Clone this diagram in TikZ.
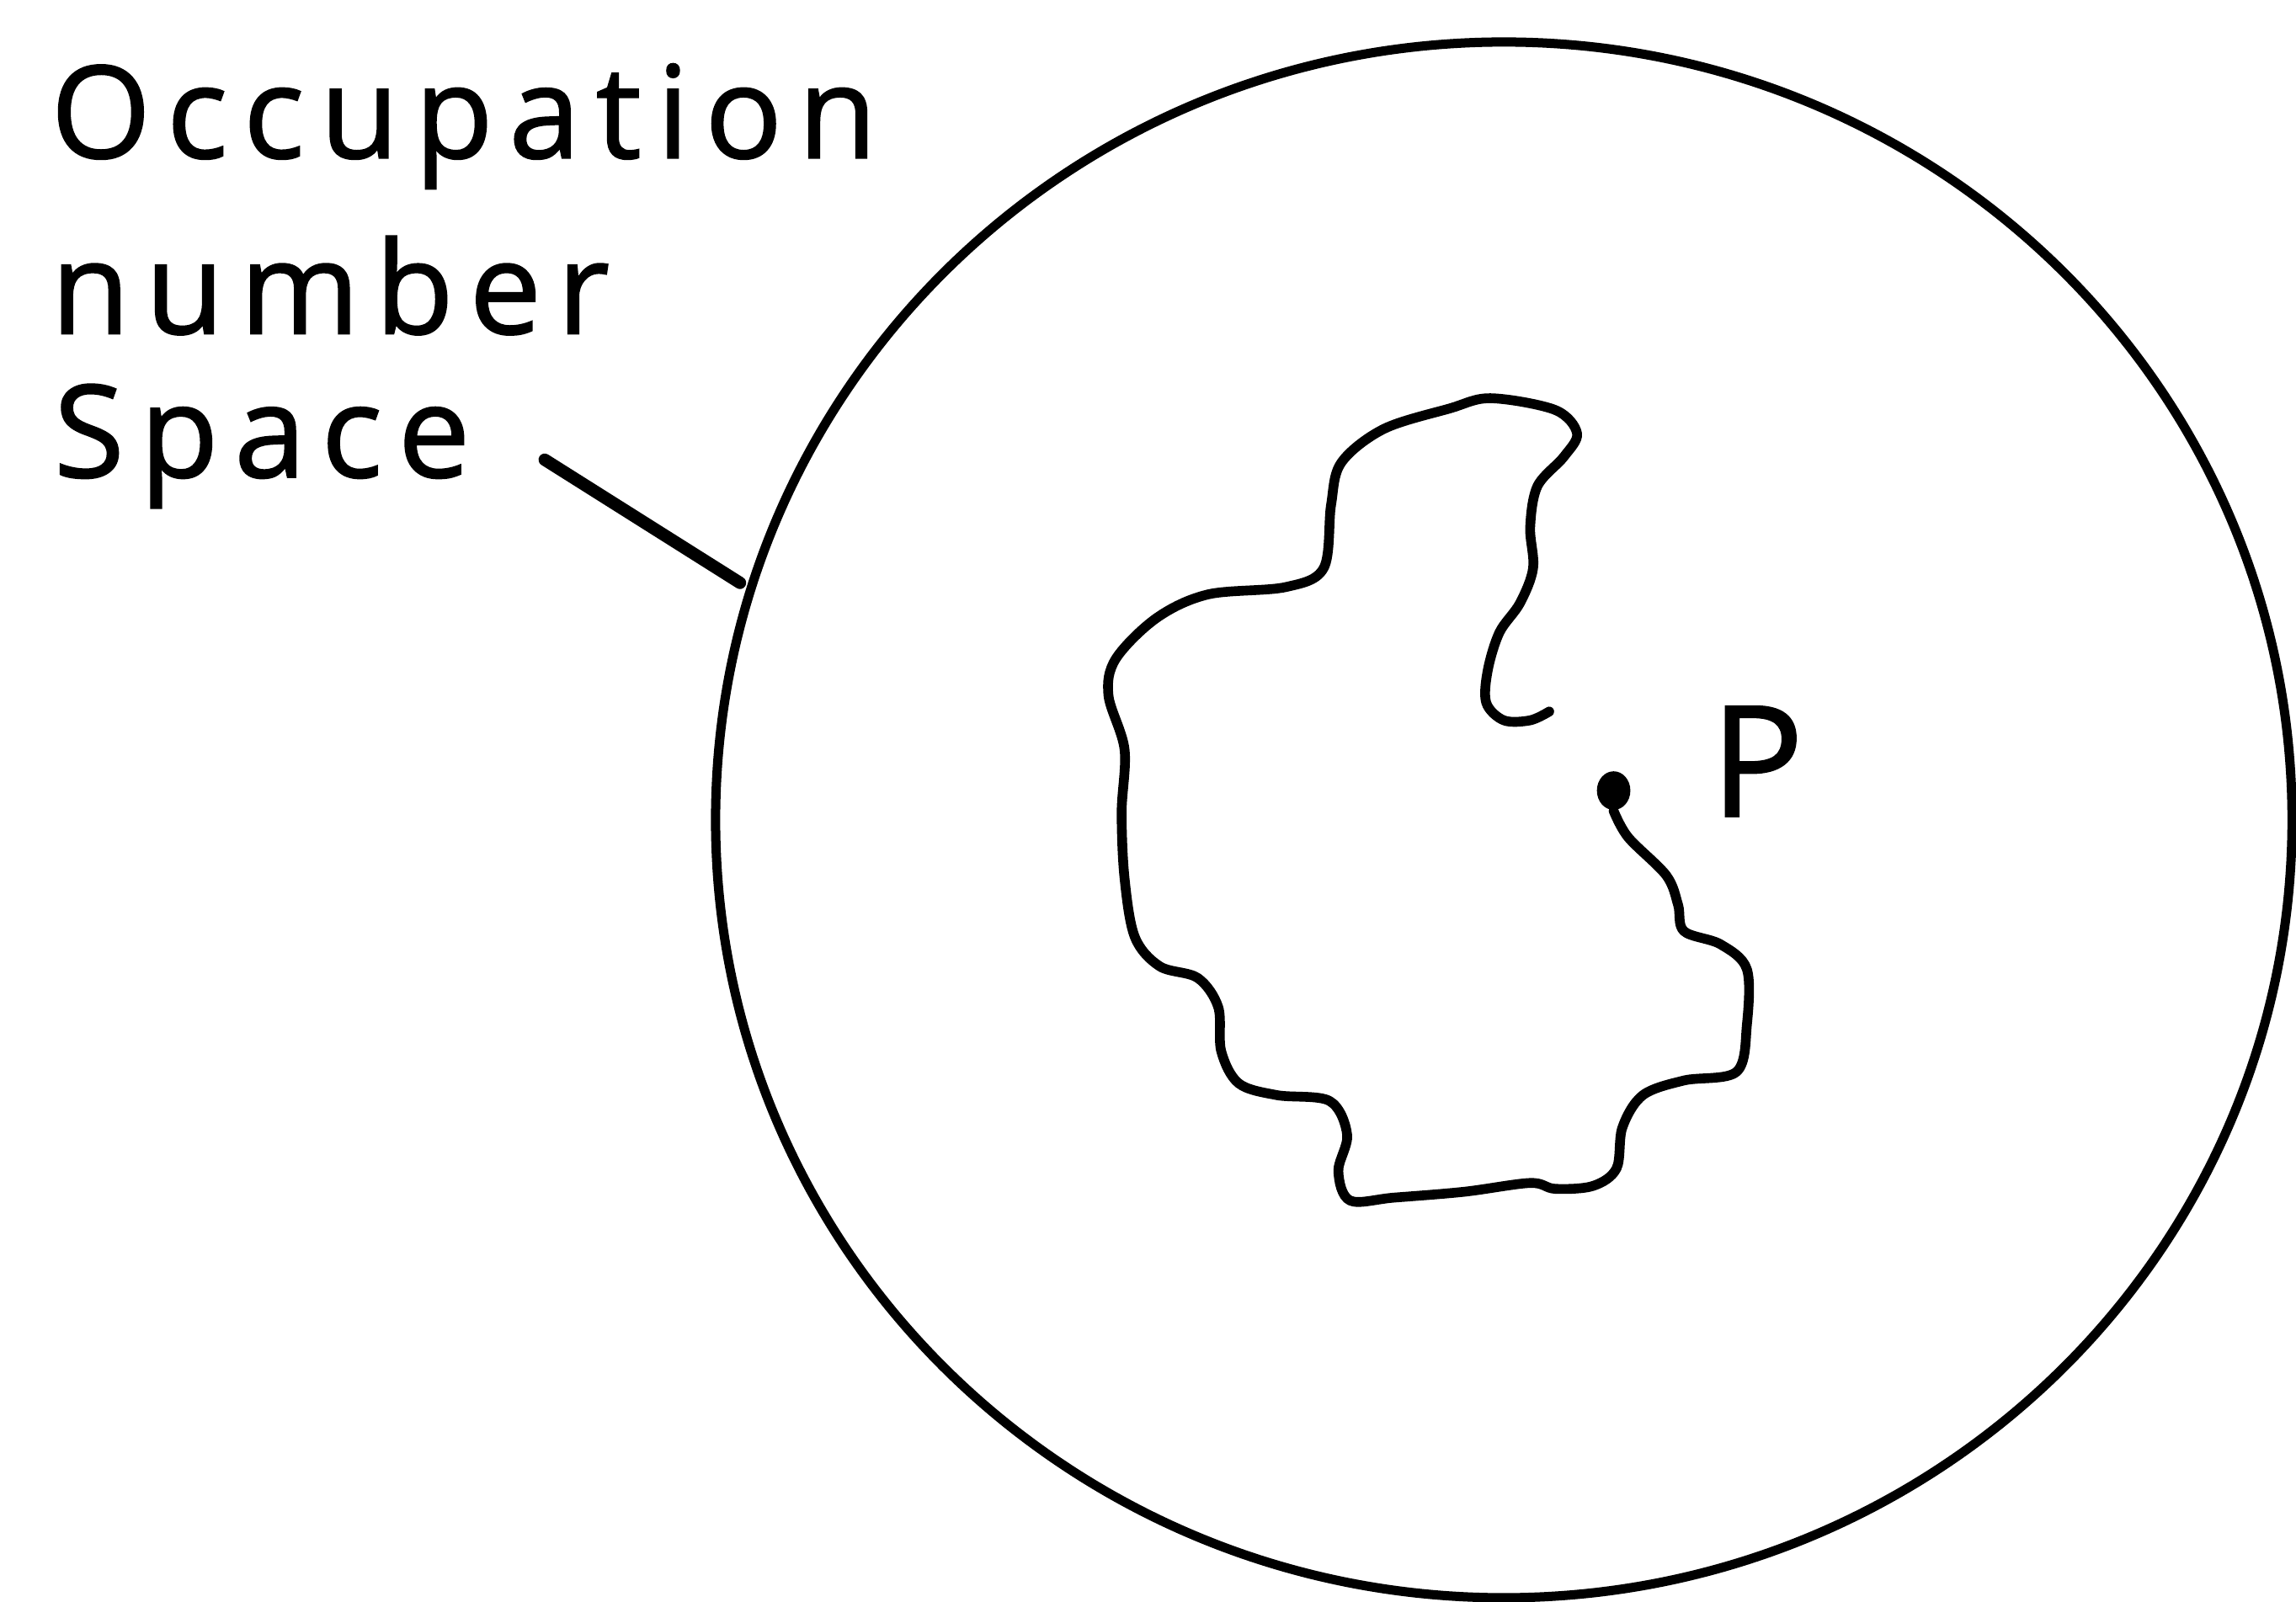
\documentclass[tikz,border=0pt]{standalone}
\usepackage{fontspec}
\setmainfont{Open Sans}[LetterSpace=12, FakeBold=1.2]
\usepackage{tikz}
\usetikzlibrary{positioning, calc, shapes.geometric}

\begin{document}
\begin{tikzpicture}[x=0.01cm, y=-0.01cm,
      rim/.style={draw, ellipse, line width=1.8pt, inner sep=0pt, outer sep=0pt},
      blob/.style={line width=1.9pt, line cap=round, line join=round},
      lead/.style={line width=2.4pt, line cap=round, shorten >=2.5pt},
      word/.style={font=\fontsize{25}{30}\selectfont, inner sep=0pt, anchor=base west},
      ]
    \useasboundingbox (0,0) rectangle (1568,1094);

    % outer space
    \node[rim, minimum width=10.76cm, minimum height=10.62cm] (outer) at (1027,560) {};

    % label and its pointer
    \node[word] (occ) at (34,108) {Occupation};
    \node[word] (num) at (34,228) {number};
    \node[word] (spc) at (36,326) {Space};
    \coordinate (tip) at (372,314);
    \draw[lead] (tip) -- (outer.163);

    % point P
    \node[fill, ellipse, minimum width=6.5pt, minimum height=7.5pt, inner sep=0pt] (dotP) at (1102,540) {};
    \node[font=\fontsize{30}{34}\selectfont, inner sep=0pt] (labP) at (1200,520) {P};

    % region reached from P
    \draw[blob] plot[smooth, tension=0.55] coordinates {
      (dotP.south) (1112,572) (1138,598) (1146,618) (1150,636) (1175,645)
      (1193,662) (1193,700) (1186,732) (1150,738) (1122,748) (1108,770)
      (1104,798) (1088,810) (1062,812) (1045,808) (1000,814) (952,818)
      (922,820) (914,800) (920,775) (908,752) (872,748) (846,740)
      (834,718) (832,688) (818,668) (792,660) (775,640) (768,600)
      (766,555) (768,512) (757,475) (762,450) (790,422) (825,406)
      (878,401) (904,388) (909,345) (916,316) (945,293) (990,279)
      (1018,272) (1062,280) (1077,296) (1068,312) (1050,332) (1045,360)
      (1047,388) (1038,412) (1024,432) (1016,458) (1015,480) (1027,492)
      (1045,492) (1058,486)};
  \end{tikzpicture}
\end{document}
